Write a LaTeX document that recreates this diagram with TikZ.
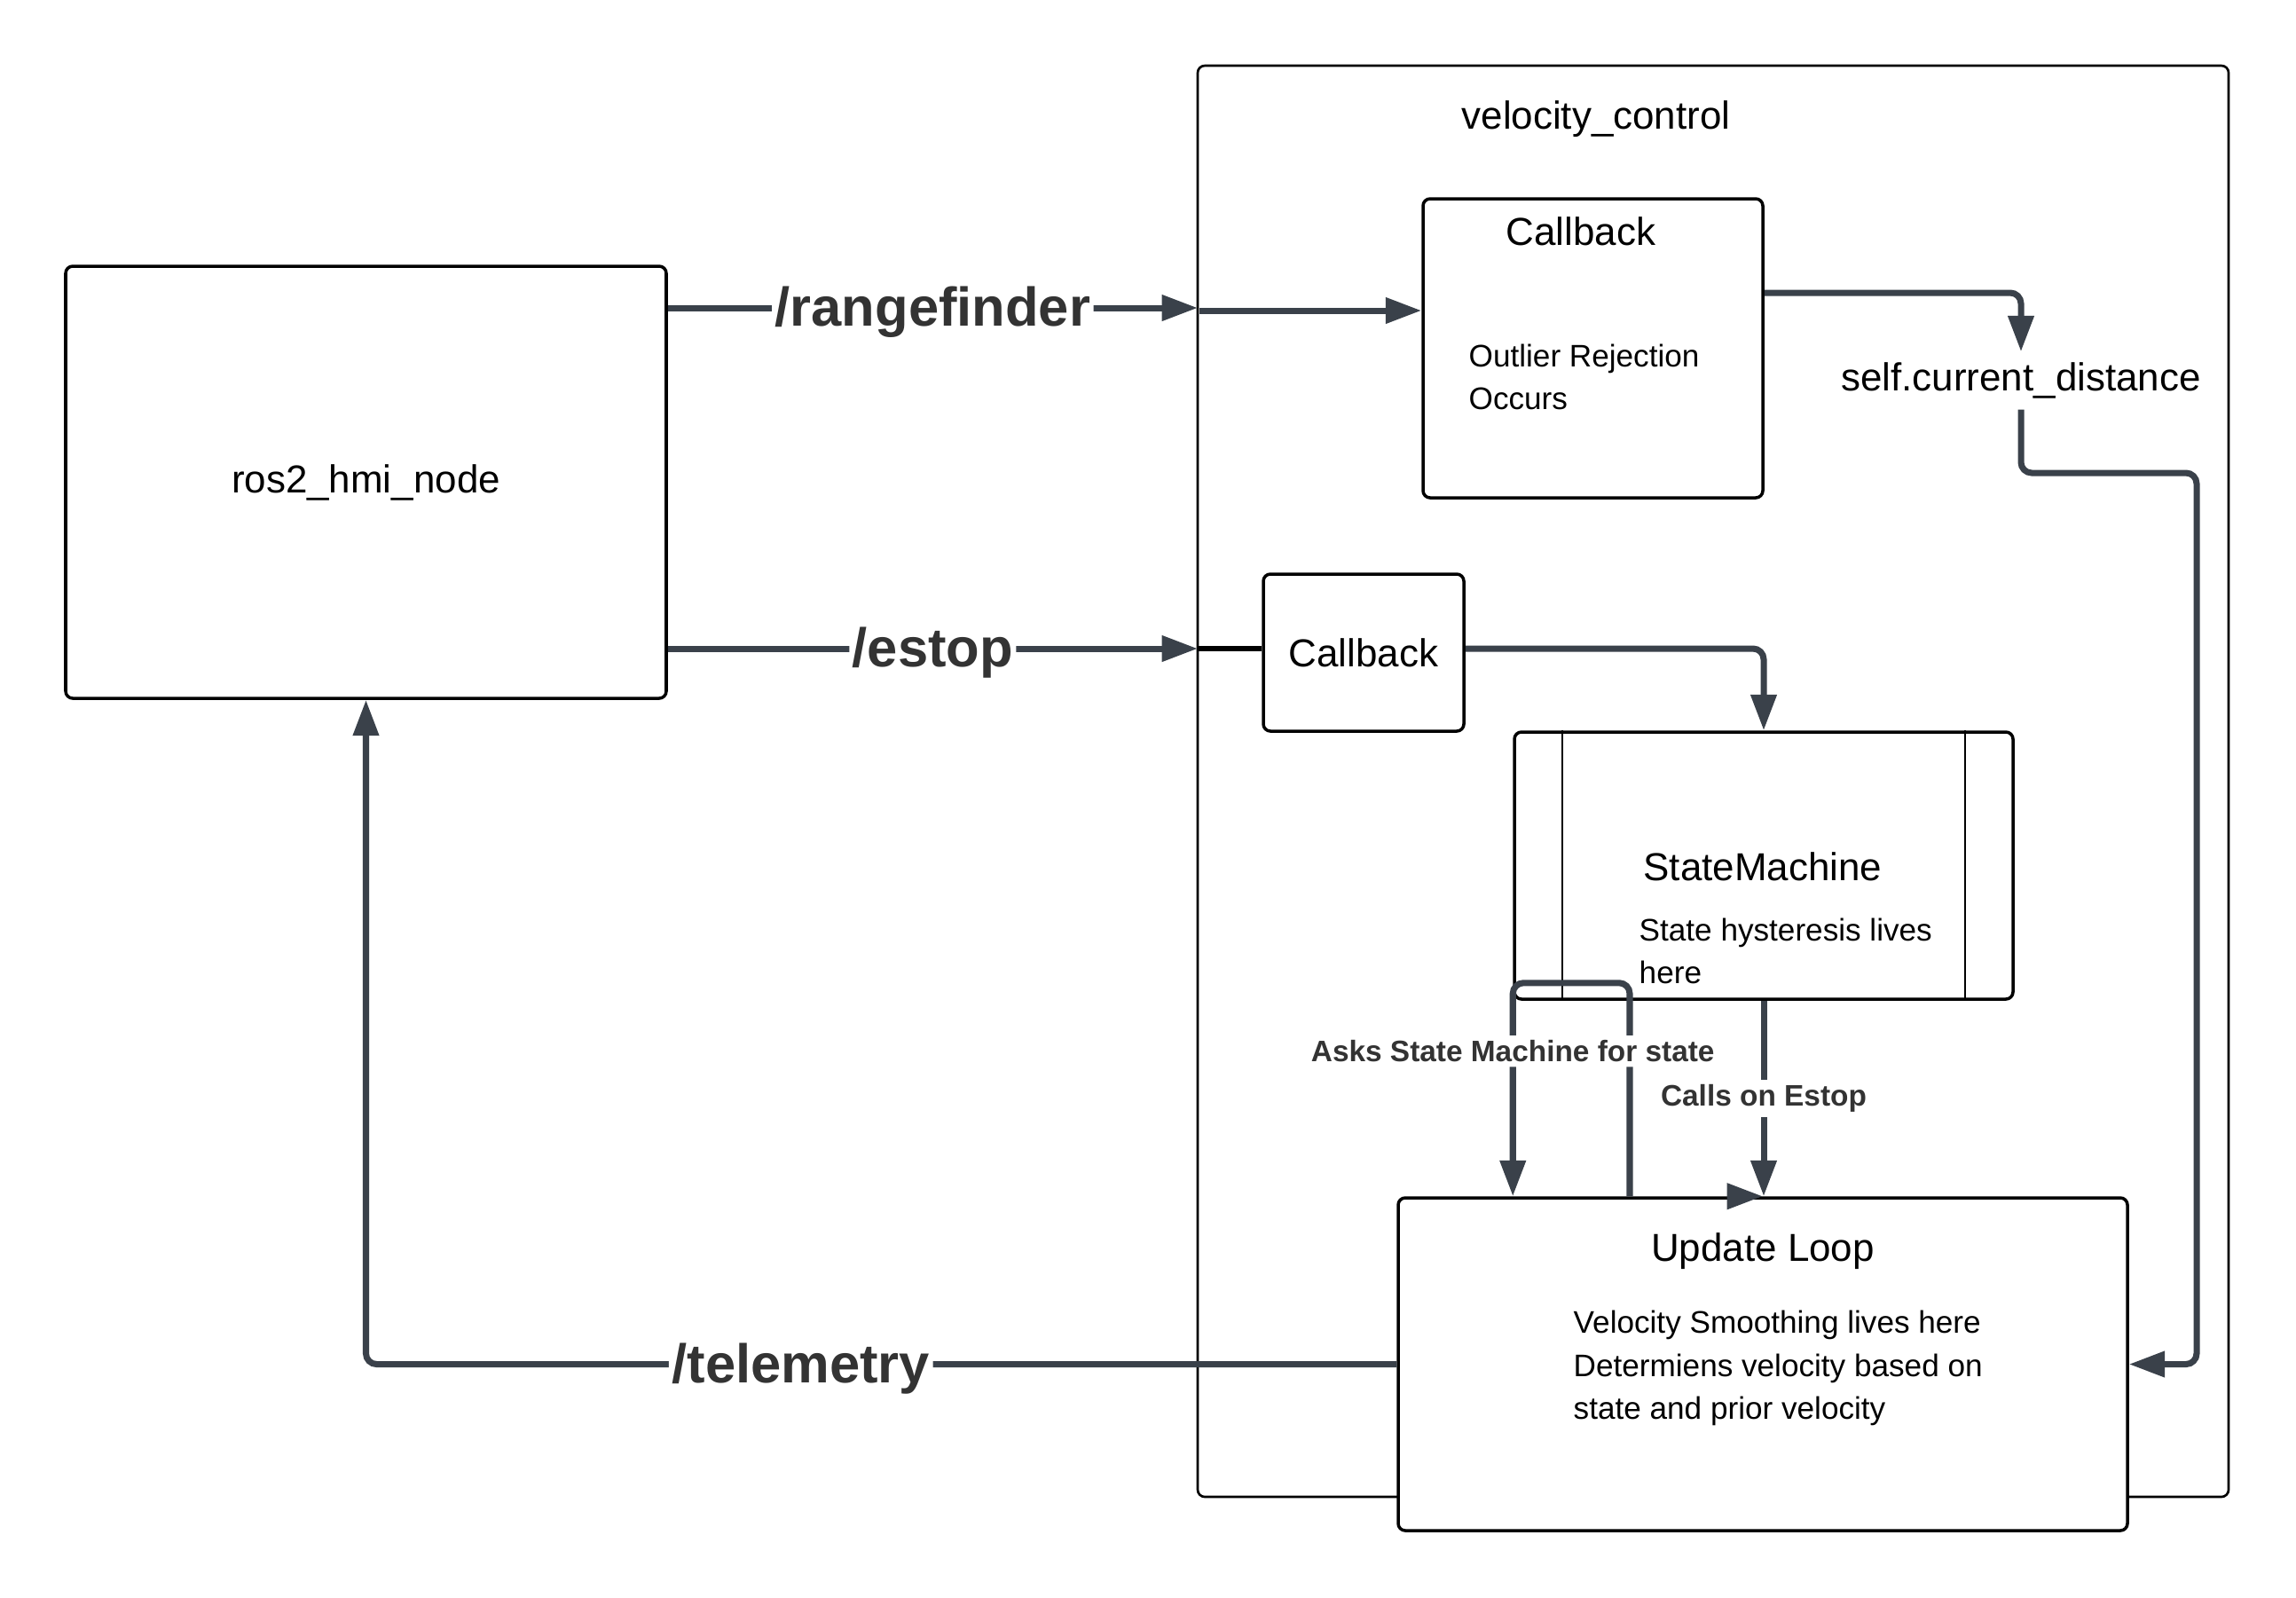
\documentclass[tikz,border=0pt]{standalone}
\usepackage{fontspec}
\setmainfont{Liberation Sans}
\usetikzlibrary{arrows.meta,positioning}
\definecolor{wirecol}{HTML}{3A414A}
\definecolor{ink}{HTML}{333333}

\begin{document}
\begin{tikzpicture}[>={Triangle[length=11.5pt,width=8pt]},
    box/.style={draw, fill=white, line width=1pt, rounded corners=0.08cm, inner sep=0pt},
    link/.style={draw=wirecol, line width=2pt, rounded corners=0.12cm},
    topic/.style={fill=white, text=ink, font=\fontsize{17.5}{20}\selectfont\bfseries, inner sep=1pt, yshift=-0.05cm},
    note/.style={fill=white, text=ink, font=\fontsize{9.5}{11}\selectfont\bfseries, inner sep=1.5pt},
    head/.style={font=\fontsize{12.5}{15}\selectfont},
    body/.style={font=\fontsize{10}{13.8}\selectfont, align=left, anchor=west, inner sep=0pt}]
    \useasboundingbox (0,0) rectangle (25.88,-18);

    % outer node
    \node[draw, line width=0.75pt, rounded corners=0.08cm, minimum width=11.62cm, minimum height=16.13cm] (vc) at (19.31,-8.805) {};
    \node[head] (vct) at (17.99,-1.34) {velocity\_control};

    \node[box, head, minimum width=6.77cm, minimum height=4.87cm] (hmi) at (4.125,-5.435) {ros2\_hmi\_node};

    \node[box, minimum width=3.83cm, minimum height=3.37cm] (cb1) at (17.955,-3.925) {};
    \node[head] (cb1t) at (17.82,-2.61) {Callback};
    \node[body] (cb1b) at (16.55,-4.25) {Outlier Rejection\\Occurs};
    \node[head] (dist) at (22.78,-4.29) {self.current\_distance};

    \node[box, head, minimum width=2.26cm, minimum height=1.77cm] (cb2) at (15.37,-7.355) {Callback};

    \node[box, minimum width=5.62cm, minimum height=3.01cm] (sm) at (19.88,-9.755) {};
    \draw[line width=0.6pt] ([xshift=0.56cm]sm.north west) -- ([xshift=0.56cm]sm.south west)
                            ([xshift=-0.56cm]sm.north east) -- ([xshift=-0.56cm]sm.south east);
    \node[head] (smt) at (19.87,-9.77) {StateMachine};
    \node[body] (smb) at (18.47,-10.72) {State hysteresis lives\\here};

    \node[box, minimum width=8.22cm, minimum height=3.75cm] (ul) at (19.87,-15.375) {};
    \node[head] (ult) at (19.87,-14.10) {Update Loop};
    \node[body] (ulb) at (17.73,-15.42) {Velocity Smoothing lives here\\Determiens velocity based on\\state and prior velocity};

    % topics
    \coordinate (rfin) at (13.50,-3.47);
    \coordinate (rfout) at (13.52,-3.50);
    \coordinate (esin) at (13.50,-7.31);
    \coordinate (bend) at (24.76,-5.33);

    \draw[link,->] (hmi.east |- rfin) -- node[topic] {/rangefinder} (rfin);
    \draw[link,->] (rfout) -- (cb1.west |- rfout);
    \draw[link,->] (hmi.east |- esin) -- node[topic] {/estop} (esin);
    \draw[line width=1.5pt] (esin) -- (cb2.west |- esin);
    \draw[link,->] (ul.west) -| node[topic, pos=0.289] {/telemetry} (hmi.south);

    % inside velocity_control
    \draw[link,->] ([yshift=0.625cm]cb1.east) -| (dist.north);
    \draw[link,->] (dist.south) |- (bend) |- (ul.east);
    \draw[link,->] (cb2.east |- esin) -| (sm.north);
    \draw[link,->] (sm.south) -- node[note] {Calls on Estop} (sm.south |- ul.north);
    \draw[link,->] ([xshift=-0.4cm]ul.north) -- (ul.north);
    \draw[link,->] ([xshift=-1.5cm]ul.north) |- ([yshift=0.2cm]sm.south west)
                   -- node[note, pos=0.32] {Asks State Machine for state} (sm.west |- ul.north);
\end{tikzpicture}
\end{document}
